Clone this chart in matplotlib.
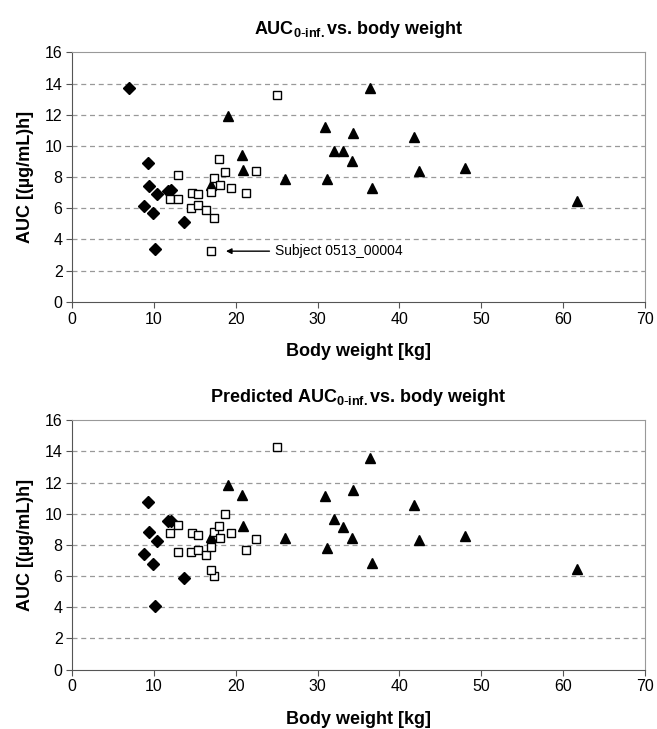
import matplotlib
matplotlib.use('Agg')
import matplotlib.pyplot as plt

plt.rcParams['font.family'] = ['Liberation Sans', 'DejaVu Sans']
plt.rcParams['mathtext.default'] = 'regular'

# body weight [kg] and AUC [(ug/mL)h] per group
diam_wt = [6.9, 9.3, 9.4, 10.4, 8.8, 9.9, 10.1, 11.7, 12.1, 13.7]
diam_auc = [13.7, 8.9, 7.4, 6.9, 6.15, 5.7, 3.4, 7.1, 7.2, 5.1]
diam_pred = [None, 10.75, 8.85, 8.25, 7.4, 6.75, 4.1, 9.5, 9.55, 5.9]

sq_wt = [12.9, 11.9, 12.9, 14.6, 15.4, 14.5, 15.4, 16.3, 17.3, 17.0,
         17.3, 18.0, 18.1, 18.7, 19.4, 21.3, 22.5, 25.0, 17.0]
sq_auc = [8.15, 6.6, 6.6, 7.0, 6.95, 6.05, 6.2, 5.9, 5.4, 7.05,
          7.95, 9.15, 7.5, 8.3, 7.3, 7.0, 8.4, 13.25, 3.25]
sq_pred = [9.3, 8.75, 7.55, 8.75, 8.65, 7.55, 7.7, 7.35, 6.0, 7.85,
           8.85, 9.2, 8.45, 9.95, 8.75, 7.7, 8.4, 14.25, 6.4]

tri_wt = [17.0, 19.0, 20.8, 20.9, 26.0, 30.9, 31.2, 32.0, 33.1, 34.2,
          34.4, 36.4, 36.7, 41.8, 42.4, 48.0, 61.7]
tri_auc = [7.5, 11.9, 9.4, 8.45, 7.9, 11.2, 7.9, 9.7, 9.7, 9.05,
           10.85, 13.7, 7.3, 10.6, 8.4, 8.6, 6.45]
tri_pred = [8.5, 11.85, 11.2, 9.2, 8.45, 11.15, 7.8, 9.65, 9.15, 8.45,
            11.5, 13.6, 6.85, 10.55, 8.3, 8.6, 6.45]

# no predicted value shown for the first subject
dp_wt = [w for w, v in zip(diam_wt, diam_pred) if v is not None]
dp_val = [v for v in diam_pred if v is not None]

fig = plt.figure(figsize=(6.57, 7.29), dpi=100)
ax1 = fig.add_axes([0.110, 0.586, 0.871, 0.342])
ax2 = fig.add_axes([0.110, 0.0816, 0.871, 0.342])


def style_ax(ax, title):
    ax.set_xlim(0, 70)
    ax.set_ylim(0, 16)
    ax.set_xticks(range(0, 71, 10))
    ax.set_yticks(range(0, 17, 2))
    for y in range(2, 16, 2):
        ax.axhline(y, color='#999999', lw=0.9, ls=(0, (4, 3)), zorder=0)
    for s in ['top', 'right']:
        ax.spines[s].set_color('#999999')
    for s in ['left', 'bottom']:
        ax.spines[s].set_color('#555555')
    ax.tick_params(direction='out', length=4, width=0.8, color='#555555',
                   labelsize=11.5, pad=3)
    ax.set_xlabel('Body weight [kg]', fontsize=13, fontweight='bold', labelpad=12)
    ax.set_ylabel('AUC [(\u00b5g/mL)h]', fontsize=13, fontweight='bold', labelpad=8)
    ax.set_title(title, fontsize=13, fontweight='bold', pad=13)


style_ax(ax1, r'AUC$_{0\text{-}inf.}$vs. body weight')
style_ax(ax2, r'Predicted AUC$_{0\text{-}inf.}$vs. body weight')

ax1.plot(diam_wt, diam_auc, 'D', color='black', ms=6.5, ls='none', zorder=3)
ax1.plot(tri_wt, tri_auc, '^', color='black', ms=7, ls='none', zorder=3)
ax1.plot(sq_wt, sq_auc, 's', mfc='white', mec='black', mew=1.0, ms=6, ls='none', zorder=4)

ax2.plot(dp_wt, dp_val, 'D', color='black', ms=6.5, ls='none', zorder=3)
ax2.plot(tri_wt, tri_pred, '^', color='black', ms=7, ls='none', zorder=3)
ax2.plot(sq_wt, sq_pred, 's', mfc='white', mec='black', mew=1.0, ms=6, ls='none', zorder=4)

ax1.annotate('Subject 0513_00004', xy=(18.8, 3.25), xytext=(24.8, 3.25),
             fontsize=10, va='center',
             arrowprops=dict(arrowstyle='-|>', color='black', lw=1,
                             shrinkA=2, shrinkB=0, mutation_scale=8))

fig.savefig('out.png', dpi=100)
